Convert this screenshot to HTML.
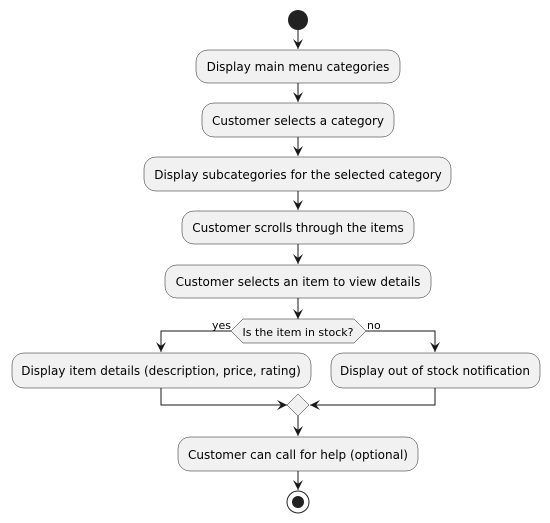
<!DOCTYPE html>
<html><head><style>body{margin:0;background:#fff}svg{display:block}text{font-family:"DejaVu Sans","Liberation Sans",sans-serif;font-size:12px;fill:#000}</style></head><body>
<svg width="550" height="523" viewBox="0 0 550 523" xmlns="http://www.w3.org/2000/svg">
<defs><marker id="a" markerWidth="12" markerHeight="12" refX="10" refY="5" orient="auto" markerUnits="userSpaceOnUse"><path d="M0,0 L10,5 L0,10 L4,5 Z" fill="#181818"/></marker></defs>
<g stroke="#181818" stroke-width="1" fill="none">
<line x1="298" y1="30" x2="298" y2="49" marker-end="url(#a)"/>
<line x1="298" y1="83" x2="298" y2="102" marker-end="url(#a)"/>
<line x1="298" y1="137" x2="298" y2="156" marker-end="url(#a)"/>
<line x1="298" y1="191" x2="298" y2="210" marker-end="url(#a)"/>
<line x1="298" y1="244" x2="298" y2="264" marker-end="url(#a)"/>
<line x1="298" y1="298" x2="298" y2="319" marker-end="url(#a)"/>
<polyline points="231,331 161,331 161,352" marker-end="url(#a)"/>
<polyline points="366,331 435,331 435,352" marker-end="url(#a)"/>
<polyline points="161,388 161,405 287,405" marker-end="url(#a)"/>
<polyline points="435,388 435,405 310,405" marker-end="url(#a)"/>
<line x1="298" y1="416" x2="298" y2="436" marker-end="url(#a)"/>
<line x1="298" y1="471" x2="298" y2="490" marker-end="url(#a)"/>
</g>
<circle cx="298" cy="20" r="10" fill="#222"/>
<g fill="#f1f1f1" stroke="#181818" stroke-width="0.5">
<rect x="196" y="50" width="204" height="33" rx="12"/>
<rect x="202" y="103" width="192" height="34" rx="12"/>
<rect x="144" y="157" width="307" height="34" rx="12"/>
<rect x="182" y="211" width="232" height="33" rx="12"/>
<rect x="165" y="265" width="266" height="33" rx="12"/>
<polygon points="243,319 354,319 366,331 354,343 243,343 231,331"/>
<rect x="12" y="353" width="299" height="35" rx="12"/>
<rect x="331" y="353" width="209" height="35" rx="12"/>
<polygon points="298,394 309,405 298,416 287,405"/>
<rect x="178" y="437" width="240" height="34" rx="12"/>
</g>
<circle cx="298" cy="502" r="11" fill="none" stroke="#222" stroke-width="1"/>
<circle cx="298" cy="502" r="6" fill="#222"/>
<g text-anchor="middle">
<text x="298" y="71">Display main menu categories</text>
<text x="298" y="125">Customer selects a category</text>
<text x="298" y="179">Display subcategories for the selected category</text>
<text x="298" y="232">Customer scrolls through the items</text>
<text x="298" y="286">Customer selects an item to view details</text>
<text x="298" y="336" style="font-size:11px">Is the item in stock?</text>
<text x="161" y="375">Display item details (description, price, rating)</text>
<text x="435" y="375">Display out of stock notification</text>
<text x="298" y="459">Customer can call for help (optional)</text>
</g>
<text x="212" y="329" style="font-size:11px">yes</text>
<text x="367" y="329" style="font-size:11px">no</text>
</svg>
</body></html>
